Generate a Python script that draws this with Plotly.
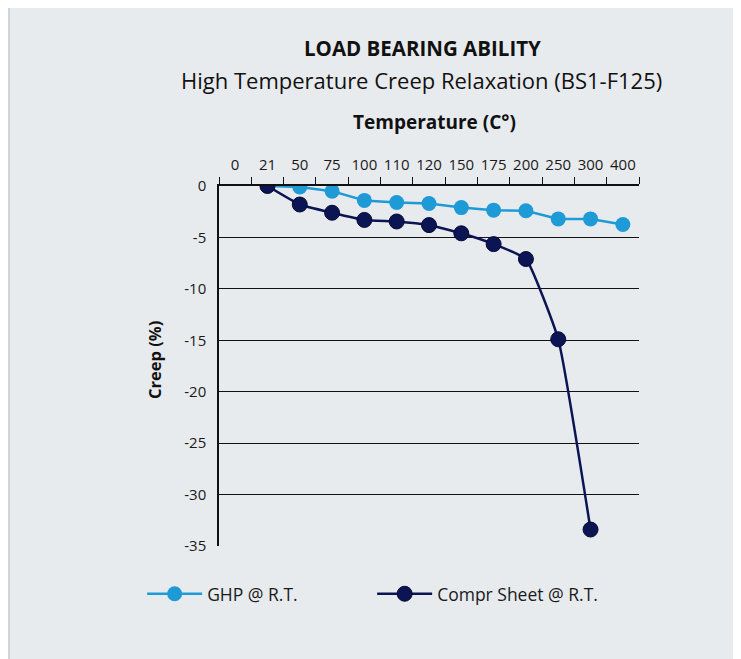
import plotly.graph_objects as go

# ---- data ----
temperatures = ["0", "21", "50", "75", "100", "110", "120", "150", "175", "200", "250", "300", "400"]
ghp_temps = ["21", "50", "75", "100", "110", "120", "150", "175", "200", "250", "300", "400"]
ghp_creep = [0, -0.1, -0.5, -1.4, -1.6, -1.7, -2.1, -2.35, -2.4, -3.2, -3.2, -3.75]
sheet_temps = ["21", "50", "75", "100", "110", "120", "150", "175", "200", "250", "300"]
sheet_creep = [0, -1.8, -2.6, -3.3, -3.45, -3.8, -4.6, -5.65, -7.1, -14.9, -33.4]
y_tick_vals = [0, -5, -10, -15, -20, -25, -30, -35]
y_tick_text = ["0", "-5", "-10", "-15", "-20", "-25", "-30", "-35"]

LIGHT = "#1E9BD7"
DARK = "#0C1553"
BG = "#E8EBEE"
FONT = "Open Sans"

fig = go.Figure()
fig.add_trace(go.Scatter(
    x=ghp_temps, y=ghp_creep, name="GHP @ R.T.", mode="lines+markers",
    line=dict(color=LIGHT, width=2.5),
    marker=dict(color=LIGHT, size=15, line=dict(color=LIGHT, width=0)),
))
fig.add_trace(go.Scatter(
    x=sheet_temps, y=sheet_creep, name="Compr Sheet @ R.T.", mode="lines+markers",
    line=dict(color=DARK, width=2.5, shape="spline", smoothing=0.4),
    marker=dict(color=DARK, size=15, line=dict(color="#050A30", width=1)),
))

fig.update_layout(
    width=741, height=659,
    margin=dict(l=211, r=110, t=178, b=121, autoexpand=False),
    paper_bgcolor=BG, plot_bgcolor=BG,
    font=dict(family=FONT, color="#1a1a1a", size=14),
    showlegend=True,
    legend=dict(
        orientation="h", x=-0.183, y=-0.133, xanchor="left", yanchor="middle",
        bgcolor="rgba(0,0,0,0)", itemwidth=55, font=dict(size=17.5, color="#1a1a1a"),
        entrywidth=160, entrywidthmode="pixels",
    ),
    xaxis=dict(
        type="category", categoryorder="array", categoryarray=temperatures,
        range=[-0.5, len(temperatures) - 0.5],
        side="top", showline=True, linecolor="#111", linewidth=1.5,
        ticks="outside", tickson="boundaries", ticklen=7, tickcolor="#111", tickwidth=1.2,
        tickangle=0, showgrid=False, tickfont=dict(size=15, color="#1a1a1a"), zeroline=False,
        ticklabelstandoff=8,
    ),
    yaxis=dict(
        range=[-35, 0], tickvals=y_tick_vals, ticktext=y_tick_text,
        showline=True, linecolor="#111", linewidth=1.5,
        showgrid=True, gridcolor="#111", gridwidth=1.3,
        zeroline=False, ticks="", tickfont=dict(size=15, color="#1a1a1a"),
        ticklabelstandoff=8,
    ),
    annotations=[
        dict(text="LOAD BEARING ABILITY", x=0.485, y=1.383, xref="paper", yref="paper",
             showarrow=False, font=dict(size=20.5, color="#111", family=FONT, weight="bold"),
             xanchor="center", yanchor="middle"),
        dict(text="High Temperature Creep Relaxation (BS1-F125)", x=0.482, y=1.294,
             xref="paper", yref="paper", showarrow=False,
             font=dict(size=22, color="#111", family=FONT), xanchor="center", yanchor="middle"),
        dict(text="Temperature (C°)", x=0.514, y=1.178, xref="paper", yref="paper",
             showarrow=False, font=dict(size=19, color="#111", family=FONT, weight="bold"),
             xanchor="center", yanchor="middle"),
        dict(text="Creep (%)", x=-0.152, y=0.517, xref="paper", yref="paper", textangle=-90,
             showarrow=False, font=dict(size=16.5, color="#111", family=FONT, weight="bold"),
             xanchor="center", yanchor="middle"),
    ],
)

# thin frame line along the left edge
px = lambda p: (p - 211) / 420.0
fig.add_shape(type="line", xref="paper", yref="paper", x0=px(1), x1=px(1), y0=-0.5, y1=1.7,
              line=dict(color="#C9CCD0", width=1.5), layer="below")

fig.write_html("out.html")
